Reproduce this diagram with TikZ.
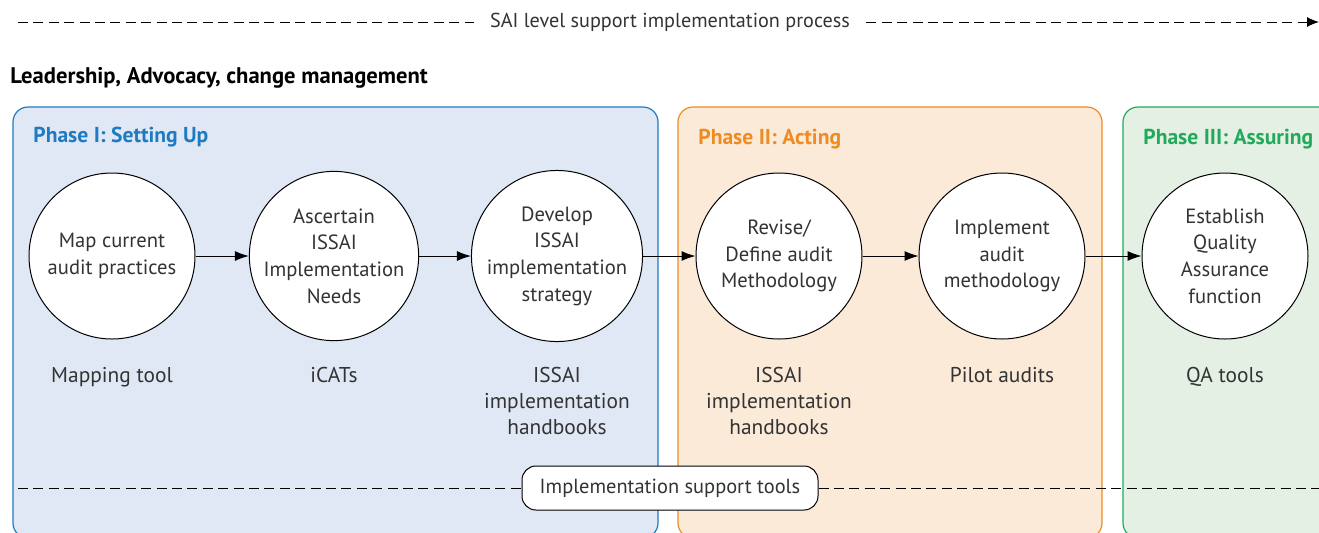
\documentclass[tikz,border=0pt]{standalone}
\usepackage{fontspec}
\setmainfont{PT Sans}
\usetikzlibrary{arrows.meta}
\definecolor{textgray}{HTML}{333333}
\definecolor{oneline}{HTML}{1E7BC2}
\definecolor{onefill}{HTML}{E1E8F5}
\definecolor{twoline}{HTML}{EE8B22}
\definecolor{twofill}{HTML}{FCEAD9}
\definecolor{threeline}{HTML}{22A95B}
\definecolor{threefill}{HTML}{E4F0E4}

\begin{document}
\begin{tikzpicture}[x=0.5pt,y=-0.5pt]
        \tikzset{activity/.style = {shape=circle,draw,fill=white,line width=0.5pt,minimum size=83pt,inner sep=0pt,align=center,text=textgray,font=\fontsize{10.3}{13.3}\selectfont}}
        \tikzset{tool/.style = {anchor=north,align=center,text=textgray,font=\fontsize{10.7}{13}\selectfont}}
        \tikzset{phasebox/.style = {rounded corners=7.5pt,line width=0.6pt}}
        \tikzset{phasetitle/.style = {anchor=base west,inner sep=0pt,font=\fontsize{10.8}{12}\bfseries}}
        \tikzset{edge/.style = {-{Latex[length=7pt,width=5pt]},line width=0.5pt}}
        \tikzset{process/.style = {dashed,dash pattern=on 5pt off 2.7pt,line width=0.5pt}}

        \useasboundingbox (0,0) rectangle (1319,532);

        % phases
        \draw[phasebox,draw=oneline,fill=onefill] (13,107) rectangle (658,538);
        \draw[phasebox,draw=twoline,fill=twofill] (678,107) rectangle (1102,538);
        \draw[phasebox,draw=threeline,fill=threefill] (1123,107) rectangle (1360,538);

        \node[phasetitle,text=oneline] (p1) at (33,142) {Phase I: Setting Up};
        \node[phasetitle,text=twoline] (p2) at (698,144) {Phase II: Acting};
        \node[phasetitle,text=threeline] (p3) at (1143,144) {Phase III: Assuring};

        % top process line
        \node[text=textgray,inner xsep=8pt,font=\fontsize{10.1}{12}\selectfont] (sai) at (670,22) {SAI level support implementation process};
        \coordinate (saiL) at (18,22);
        \coordinate (saiR) at (1319,22);
        \draw[process] (saiL) -- (sai.west);
        \draw[process,-{Latex[length=6pt,width=5pt]}] (sai.east) -- (saiR);

        \node[anchor=base west,inner sep=0pt,font=\fontsize{11.3}{12}\bfseries] (lead) at (10,83) {Leadership, Advocacy, change management};

        % activities
        \node[activity] (1) at (112,256) {Map current\\audit practices};
        \node[activity] (2) at (334,256) {Ascertain\\ISSAI\\Implementation\\Needs};
        \node[activity] (3) at (557,256) {Develop\\ISSAI\\implementation\\strategy};
        \node[activity] (4) at (779,256) {Revise/\\Define audit\\Methodology};
        \node[activity] (5) at (1002,256) {Implement\\audit\\methodology};
        \node[activity] (6) at (1225,256) {Establish\\Quality\\Assurance\\function};

        \draw[edge] (1) to (2);
        \draw[edge] (2) to (3);
        \draw[edge] (3) to (4);
        \draw[edge] (4) to (5);
        \draw[edge] (5) to (6);

        % tools
        \node[tool] (t1) at (112,360) {Mapping tool};
        \node[tool] (t2) at (334,360) {iCATs};
        \node[tool] (t3) at (557,360) {ISSAI\\implementation\\handbooks};
        \node[tool] (t4) at (779,360) {ISSAI\\implementation\\handbooks};
        \node[tool] (t5) at (1002,360) {Pilot audits};
        \node[tool] (t6) at (1225,360) {QA tools};

        % support line
        \node[draw,rounded corners=7pt,fill=white,line width=0.5pt,minimum width=148pt,minimum height=22pt,text=textgray,font=\fontsize{10.2}{12}\selectfont] (ist) at (670,488) {Implementation support tools};
        \coordinate (istL) at (18,488);
        \coordinate (istR) at (1319,488);
        \draw[process] (istL) -- (ist.west);
        \draw[process] (ist.east) -- (istR);
      \end{tikzpicture}
\end{document}
